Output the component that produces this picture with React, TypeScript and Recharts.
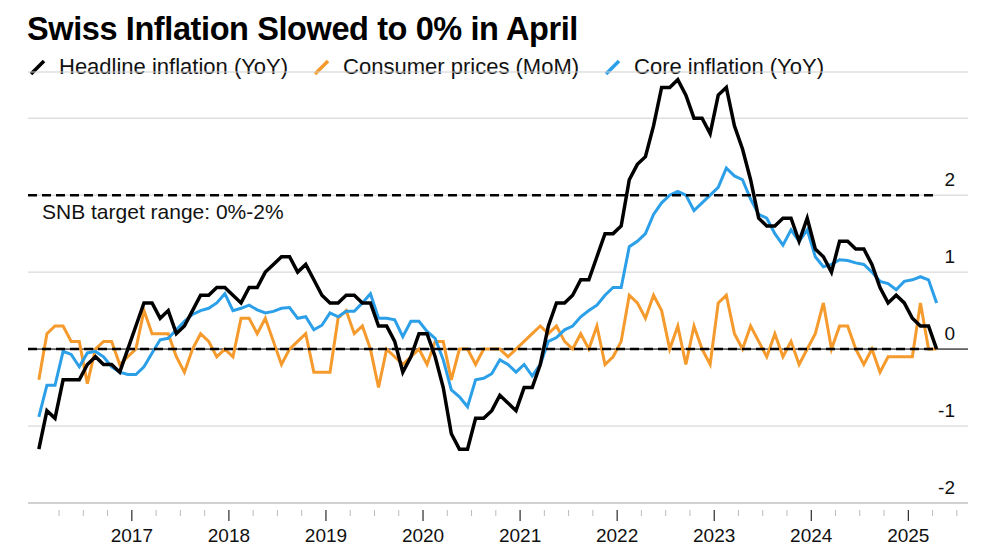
import { LineChart, Line, XAxis, YAxis, CartesianGrid, ReferenceLine } from 'recharts'

const START_YEAR = 2016

// headline CPI, YoY %, Jan 2016 .. Apr 2025
const HEADLINE = [
  -1.3, -0.8, -0.9, -0.4, -0.4, -0.4, -0.2, -0.1, -0.2, -0.2, -0.3, 0.0,
  0.3, 0.6, 0.6, 0.4, 0.5, 0.2, 0.3, 0.5, 0.7, 0.7, 0.8, 0.8,
  0.7, 0.6, 0.8, 0.8, 1.0, 1.1, 1.2, 1.2, 1.0, 1.1, 0.9, 0.7,
  0.6, 0.6, 0.7, 0.7, 0.6, 0.6, 0.3, 0.3, 0.1, -0.3, -0.1, 0.2,
  0.2, -0.1, -0.5, -1.1, -1.3, -1.3, -0.9, -0.9, -0.8, -0.6, -0.7, -0.8,
  -0.5, -0.5, -0.2, 0.3, 0.6, 0.6, 0.7, 0.9, 0.9, 1.2, 1.5, 1.5,
  1.6, 2.2, 2.4, 2.5, 2.9, 3.4, 3.4, 3.5, 3.3, 3.0, 3.0, 2.8,
  3.3, 3.4, 2.9, 2.6, 2.2, 1.7, 1.6, 1.6, 1.7, 1.7, 1.4, 1.7,
  1.3, 1.2, 1.0, 1.4, 1.4, 1.3, 1.3, 1.1, 0.8, 0.6, 0.7, 0.6,
  0.4, 0.3, 0.3, 0.0,
]

// consumer prices, MoM %
const MOM = [
  -0.4, 0.2, 0.3, 0.3, 0.1, 0.1, -0.45, 0.0, 0.1, 0.1, -0.2, -0.1,
  0.0, 0.5, 0.2, 0.2, 0.2, -0.1, -0.3, 0.0, 0.2, 0.1, -0.1, 0.0,
  -0.1, 0.4, 0.4, 0.2, 0.4, 0.1, -0.2, 0.0, 0.1, 0.2, -0.3, -0.3,
  -0.3, 0.4, 0.5, 0.2, 0.3, 0.0, -0.5, 0.0, -0.1, -0.2, -0.1, 0.0,
  -0.2, 0.1, 0.1, -0.4, 0.0, 0.0, -0.2, 0.0, 0.0, 0.0, -0.1, 0.0,
  0.1, 0.2, 0.3, 0.2, 0.3, 0.1, 0.0, 0.2, 0.0, 0.3, -0.2, -0.1,
  0.1, 0.7, 0.6, 0.4, 0.7, 0.5, 0.0, 0.3, -0.2, 0.3, 0.0, -0.2,
  0.6, 0.7, 0.2, 0.0, 0.3, 0.1, -0.1, 0.2, -0.1, 0.1, -0.2, 0.0,
  0.2, 0.6, 0.0, 0.3, 0.3, 0.0, -0.2, 0.0, -0.3, -0.1, -0.1, -0.1,
  -0.1, 0.6, 0.0, 0.0,
]

// core inflation, YoY %
const CORE = [
  -0.88, -0.47, -0.47, -0.03, -0.07, -0.23, -0.05, -0.03, -0.1, -0.23, -0.3, -0.33,
  -0.33, -0.23, -0.05, 0.12, 0.14, 0.25, 0.36, 0.45, 0.5, 0.53, 0.6, 0.72,
  0.5, 0.53, 0.57, 0.51, 0.47, 0.49, 0.53, 0.54, 0.4, 0.42, 0.25, 0.31,
  0.47, 0.42, 0.49, 0.49, 0.6, 0.72, 0.4, 0.4, 0.38, 0.16, 0.36, 0.36,
  0.23, 0.14, -0.14, -0.53, -0.62, -0.75, -0.4, -0.38, -0.32, -0.14, -0.2, -0.3,
  -0.2, -0.35, -0.2, 0.1, 0.15, 0.25, 0.3, 0.42, 0.5, 0.57, 0.7, 0.8,
  0.8, 1.33, 1.4, 1.5, 1.75, 1.9, 2.0, 2.05, 2.0, 1.8, 1.9, 2.0,
  2.1, 2.35, 2.25, 2.2, 1.95, 1.75, 1.7, 1.5, 1.35, 1.55, 1.4, 1.55,
  1.2, 1.07, 1.1, 1.16, 1.15, 1.12, 1.1, 1.0, 0.88, 0.85, 0.77, 0.88,
  0.9, 0.94, 0.9, 0.6,
]

const YEARS = [2017, 2018, 2019, 2020, 2021, 2022, 2023, 2024, 2025]
const X_TICKS = Array.from({ length: 38 }, (_, i) => 2016.25 + i * 0.25)
const Y_TICKS = [-2, -1, 0, 1, 2, 3]

const data = HEADLINE.map((h, i) => ({
  t: START_YEAR + (i + 0.5) / 12,
  headline: h,
  mom: MOM[i],
  core: CORE[i],
}))

const FONT = '"Liberation Sans", Arial, Helvetica, sans-serif'
const BLUE = '#2c9fe9'
const ORANGE = '#f59a2c'

function XTick({ x, y, payload }: any) {
  const v = payload.value
  const major = YEARS.some(yr => Math.abs(yr - v) < 0.01)
  return (
    <g>
      <line x1={x} x2={x} y1={y - 1} y2={y + (major ? 10 : 5)} stroke={major ? '#000' : '#bbb'} strokeWidth={1} />
      {major && (
        <text x={x} y={y + 31} textAnchor="middle" fontSize={19} fontFamily={FONT} fill="#111">
          {Math.round(v)}
        </text>
      )}
    </g>
  )
}

function YTick({ y, payload }: any) {
  if (payload.value === 3) return <g />
  return (
    <text x={955} y={y - 9} textAnchor="end" fontSize={19} fontFamily={FONT} fill="#111">
      {payload.value}
    </text>
  )
}

function LegendItem({ color, label }: { color: string, label: string }) {
  return (
    <span style={{ display: 'inline-flex', alignItems: 'center', marginRight: 24 }}>
      <svg width={20} height={20} style={{ marginRight: 11 }}>
        <line x1={3} y1={17} x2={16} y2={4} stroke={color} strokeWidth={3.5} />
      </svg>
      {label}
    </span>
  )
}

export default function App() {
  return (
    <div style={{ position: 'absolute', left: 0, top: 0, width: 1000, height: 545, background: '#fff', fontFamily: FONT }}>
      <div style={{ position: 'absolute', left: 27, top: 11, fontSize: 32.5, fontWeight: 700, letterSpacing: -0.4, color: '#000' }}>
        Swiss Inflation Slowed to 0% in April
      </div>
      <div style={{ position: 'absolute', left: 28, top: 54, fontSize: 22, color: '#111', display: 'flex' }}>
        <LegendItem color="#000" label="Headline inflation (YoY)" />
        <LegendItem color={ORANGE} label="Consumer prices (MoM)" />
        <LegendItem color={BLUE} label="Core inflation (YoY)" />
      </div>
      <div style={{ position: 'absolute', left: 42, top: 200, fontSize: 21, color: '#111' }}>
        SNB target range: 0%-2%
      </div>
      <LineChart width={1000} height={545} data={data} margin={{ top: 72, right: 0, bottom: 0, left: 28 }}>
        <CartesianGrid vertical={false} stroke="#cfcfcf" />
        <XAxis dataKey="t" type="number" domain={[2015.93, 2025.615]} ticks={X_TICKS} interval={0}
               axisLine={{ stroke: '#bbb' }} tickLine={false} tick={<XTick />} height={42} />
        <YAxis type="number" domain={[-2, 3.6]} ticks={Y_TICKS} orientation="right" width={32} interval={0}
               axisLine={false} tickLine={false} tick={<YTick />} />
        <ReferenceLine y={0} stroke="#000" strokeWidth={1} />
        <Line dataKey="mom" stroke={ORANGE} strokeWidth={3} dot={false} isAnimationActive={false} />
        <Line dataKey="core" stroke={BLUE} strokeWidth={3} dot={false} isAnimationActive={false} />
        <Line dataKey="headline" stroke="#000" strokeWidth={3.5} dot={false} isAnimationActive={false} />
        <ReferenceLine segment={[{ x: 2015.93, y: 2 }, { x: 2025.29, y: 2 }]} stroke="#000" strokeWidth={2.5} strokeDasharray="9 5" />
        <ReferenceLine segment={[{ x: 2015.93, y: 0 }, { x: 2025.29, y: 0 }]} stroke="#000" strokeWidth={2.5} strokeDasharray="9 5" />
      </LineChart>
    </div>
  )
}
